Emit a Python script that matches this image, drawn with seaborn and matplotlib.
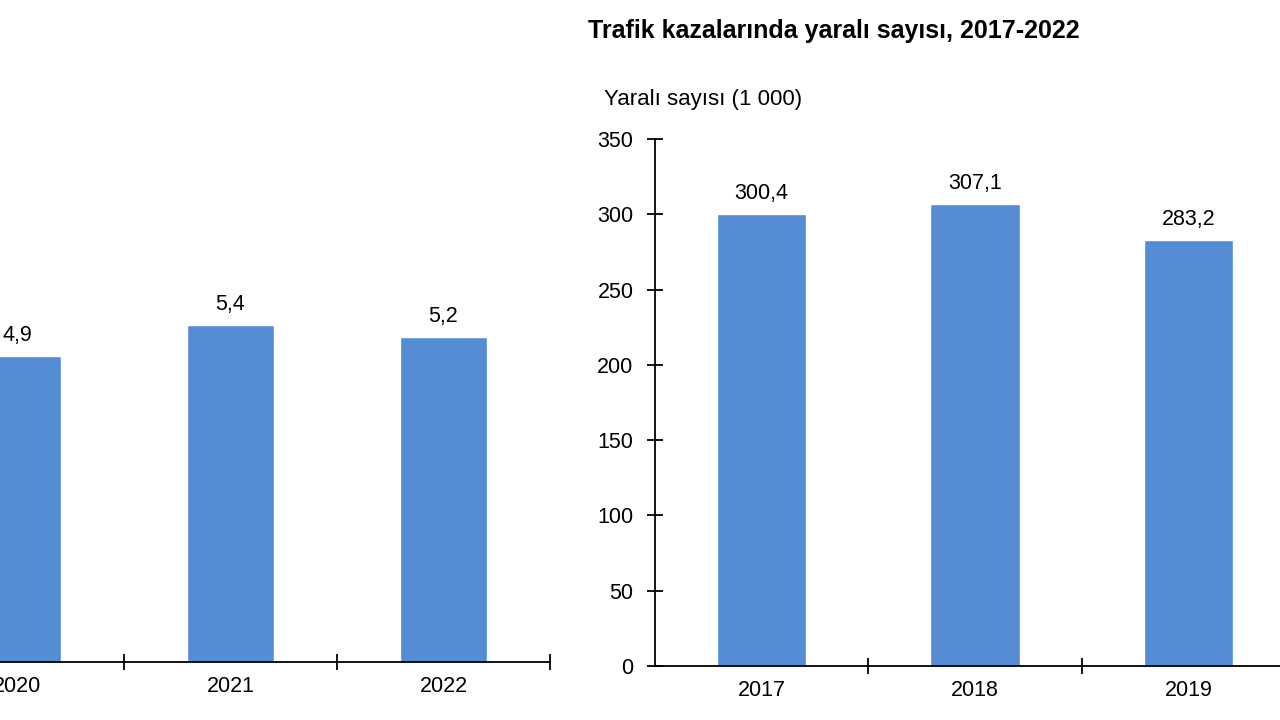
import matplotlib
matplotlib.use("Agg")
import matplotlib.pyplot as plt
import seaborn as sns
import pandas as pd
from matplotlib.ticker import FixedLocator, NullFormatter

# Visible data (left chart: deaths, right chart: injured, in thousands)
left_years = ["2020", "2021", "2022"]
left_values = [4.9, 5.4, 5.2]
left_labels = ["4,9", "5,4", "5,2"]

right_years = ["2017", "2018", "2019"]
right_values = [300.4, 307.1, 283.2]
right_labels = ["300,4", "307,1", "283,2"]

right_title = "Trafik kazalarında yaralı sayısı, 2017-2022"
right_ylabel = "Yaralı sayısı (1 000)"
right_yticks = [0, 50, 100, 150, 200, 250, 300, 350]

sns.set_theme(style="white")
plt.rcParams["font.family"] = ["Liberation Sans", "DejaVu Sans"]

bar_color = "#558CD3"
FS = 15.5
W, H = 1280, 720
fig = plt.figure(figsize=(12.8, 7.2), dpi=100)
fig.patch.set_facecolor("white")

def px_axes(x0, y_bottom, x1, y_top):
    return fig.add_axes([x0 / W, (H - y_bottom) / H, (x1 - x0) / W, (y_bottom - y_top) / H])

def style_axes(ax):
    ax.set_facecolor("white")
    for s in ["top", "right"]:
        ax.spines[s].set_visible(False)
    ax.spines["bottom"].set_color("black")
    ax.spines["bottom"].set_linewidth(1.3)
    ax.spines["left"].set_color("black")
    ax.spines["left"].set_linewidth(1.3)
    ax.set_xlabel("")
    ax.set_ylabel("")
    ax.xaxis.set_minor_locator(FixedLocator([0.5, 1.5, 2.5]))
    ax.xaxis.set_minor_formatter(NullFormatter())
    ax.tick_params(axis="x", which="major", length=0, labelsize=FS, pad=10, colors="black")
    ax.tick_params(axis="x", which="minor", bottom=True, direction="inout", length=11, width=1.3, color="black")

# Left chart (partially visible)
dfl = pd.DataFrame({"year": left_years, "value": left_values})
axl = px_axes(-89, 662, 550, 162)
sns.barplot(data=dfl, x="year", y="value", order=left_years, color=bar_color,
            width=0.41, saturation=1, ax=axl)
axl.set_xlim(-0.5, 2.5)
axl.set_ylim(0, 8)
style_axes(axl)
axl.set_yticks([])
axl.bar_label(axl.containers[0], labels=left_labels, padding=7, fontsize=FS, color="black")

# Right chart (partially visible)
dfr = pd.DataFrame({"year": right_years, "value": right_values})
axr = px_axes(655, 666, 1295, 139)
sns.barplot(data=dfr, x="year", y="value", order=right_years, color=bar_color,
            width=0.42, saturation=1, ax=axr)
axr.set_xlim(-0.5, 2.5)
axr.set_ylim(0, 350)
style_axes(axr)
axr.set_yticks(right_yticks)
axr.tick_params(axis="y", which="major", left=True, direction="inout", length=11, width=1.3,
                labelsize=FS, pad=10, colors="black")
axr.bar_label(axr.containers[0], labels=right_labels, padding=7, fontsize=FS, color="black")

fig.text(588 / W, 1 - 31 / H, right_title, fontsize=18, fontweight="bold", ha="left", va="center", color="black")
fig.text(604 / W, 1 - 100 / H, right_ylabel, fontsize=16, ha="left", va="center", color="black")

fig.savefig("out.png", dpi=100, facecolor="white")
